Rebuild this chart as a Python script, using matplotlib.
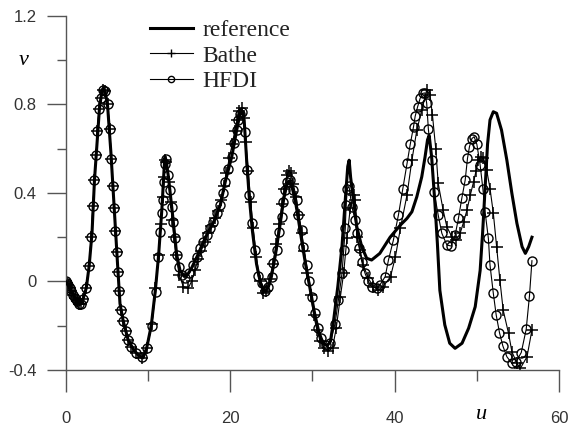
import matplotlib.pyplot as plt
from matplotlib.ticker import FixedLocator
from matplotlib.lines import Line2D

# (u, v) points
reference = [
    (0, 0), (0.5, -0.03), (1.0, -0.065), (1.5, -0.095), (1.8, -0.1), (2.1, -0.08),
    (2.5, -0.03), (2.85, 0.07), (3.2, 0.22), (3.5, 0.46), (3.8, 0.62), (4.1, 0.78),
    (4.4, 0.86), (4.6, 0.87), (4.85, 0.85), (5.1, 0.79), (5.5, 0.58), (5.9, 0.33),
    (6.3, 0.08), (6.6, -0.1), (7.0, -0.18), (7.6, -0.265), (8.3, -0.31), (9.0, -0.34),
    (9.4, -0.345), (9.85, -0.3), (10.4, -0.2), (10.9, -0.04), (11.3, 0.12),
    (11.7, 0.33), (11.95, 0.5), (12.05, 0.56), (12.2, 0.55), (12.5, 0.47), (13.0, 0.3),
    (13.5, 0.12), (13.9, 0.05), (14.4, 0.025), (14.8, 0.03), (15.3, 0.06),
    (16.0, 0.115), (17.0, 0.2), (18.0, 0.27), (18.8, 0.345), (19.4, 0.45),
    (20.2, 0.565), (20.8, 0.685), (21.2, 0.76), (21.45, 0.77), (21.7, 0.73),
    (22.0, 0.55), (22.3, 0.39), (22.7, 0.23), (23.2, 0.08), (23.7, -0.01),
    (24.2, -0.045), (24.6, -0.03), (25.0, 0.02), (25.5, 0.12), (26.0, 0.24),
    (26.5, 0.37), (26.9, 0.44), (27.2, 0.455), (27.5, 0.43), (27.9, 0.37), (28.3, 0.28),
    (28.8, 0.16), (29.3, 0.05), (29.8, -0.05), (30.3, -0.15), (30.8, -0.23),
    (31.3, -0.28), (31.8, -0.29), (32.2, -0.27), (32.6, -0.17), (33.1, -0.02),
    (33.6, 0.16), (34.0, 0.37), (34.3, 0.52), (34.47, 0.548), (34.65, 0.47),
    (35.0, 0.368), (35.4, 0.247), (36.0, 0.157), (36.6, 0.105), (37.2, 0.097),
    (38.2, 0.127), (39.45, 0.2), (40.7, 0.255), (41.5, 0.285), (42.1, 0.315),
    (42.7, 0.383), (43.3, 0.473), (43.7, 0.563), (44.0, 0.64), (44.2, 0.66),
    (44.5, 0.563), (44.9, 0.353), (45.2, 0.172), (45.5, -0.04), (46.1, -0.196),
    (46.7, -0.279), (47.35, -0.302), (48.2, -0.279), (49.0, -0.211), (49.8, -0.114),
    (50.4, 0.05), (50.7, 0.22), (51.0, 0.42), (51.3, 0.62), (51.6, 0.73),
    (52.0, 0.767), (52.4, 0.76), (53.0, 0.684), (53.65, 0.548), (54.26, 0.398),
    (54.87, 0.263), (55.5, 0.157), (55.9, 0.127), (56.3, 0.157), (56.7, 0.2),
]

bathe = [
    (0, 0), (0.15, -0.005), (0.3, -0.015), (0.5, -0.03), (0.7, -0.045), (0.9, -0.06),
    (1.1, -0.075), (1.35, -0.09), (1.6, -0.1), (1.85, -0.1), (2.1, -0.08),
    (2.47, -0.03), (2.83, 0.07), (3.1, 0.2), (3.3, 0.34), (3.5, 0.46), (3.7, 0.57),
    (3.85, 0.68), (4.05, 0.78), (4.25, 0.83), (4.5, 0.865), (4.75, 0.86), (5.1, 0.8),
    (5.35, 0.69), (5.55, 0.555), (5.75, 0.43), (5.9, 0.33), (6.05, 0.23), (6.2, 0.135),
    (6.35, 0.045), (6.5, -0.045), (6.7, -0.13), (7.0, -0.18), (7.3, -0.225),
    (7.6, -0.265), (8.0, -0.295), (8.6, -0.325), (9.25, -0.345), (9.9, -0.3),
    (10.5, -0.19), (10.9, -0.03), (11.3, 0.12), (11.6, 0.26), (11.8, 0.38),
    (11.95, 0.47), (12.1, 0.55), (12.2, 0.54), (12.5, 0.45), (12.75, 0.36),
    (12.95, 0.28), (13.15, 0.2), (13.4, 0.12), (13.8, 0.03), (14.3, -0.023),
    (14.9, -0.03), (15.3, 0.0), (15.7, 0.05), (16.1, 0.1), (16.5, 0.14), (16.9, 0.18),
    (17.3, 0.22), (17.7, 0.25), (18.1, 0.285), (18.5, 0.32), (18.9, 0.37),
    (19.2, 0.43), (19.55, 0.49), (19.9, 0.56), (20.25, 0.62), (20.55, 0.68),
    (20.85, 0.73), (21.1, 0.77), (21.4, 0.785), (21.65, 0.74), (21.9, 0.63),
    (22.2, 0.5), (22.5, 0.36), (22.8, 0.24), (23.2, 0.11), (23.6, 0.0), (24.0, -0.05),
    (24.4, -0.045), (24.8, 0.01), (25.2, 0.08), (25.6, 0.17), (25.95, 0.26),
    (26.3, 0.35), (26.6, 0.42), (26.9, 0.48), (27.15, 0.5), (27.4, 0.49),
    (27.7, 0.44), (28.0, 0.38), (28.35, 0.3), (28.7, 0.22), (29.0, 0.14), (29.4, 0.04),
    (29.8, -0.06), (30.15, -0.15), (30.55, -0.22), (30.95, -0.27), (31.45, -0.3),
    (31.95, -0.315), (32.45, -0.3), (32.9, -0.21), (33.4, -0.07), (33.8, 0.037),
    (34.2, 0.195), (34.6, 0.33), (35.0, 0.39), (35.2, 0.37), (35.4, 0.2),
    (35.8, 0.142), (36.2, 0.074), (36.8, 0.014), (37.4, -0.023), (38.0, -0.038),
    (38.6, -0.023), (39.5, 0.022), (40.1, 0.112), (40.7, 0.24), (41.5, 0.39),
    (42.1, 0.548), (42.7, 0.684), (43.3, 0.774), (43.9, 0.865), (44.3, 0.842),
    (44.6, 0.752), (45.0, 0.6), (45.3, 0.443), (45.9, 0.323), (46.35, 0.247),
    (46.96, 0.202), (47.5, 0.187), (47.97, 0.218), (48.4, 0.27), (48.8, 0.323),
    (49.2, 0.39), (49.6, 0.45), (49.9, 0.5), (50.2, 0.548), (50.5, 0.563),
    (50.8, 0.56), (51.2, 0.503), (51.6, 0.42), (52.0, 0.31), (52.4, 0.157),
    (52.8, 0.007), (53.2, -0.129), (53.85, -0.234), (54.26, -0.317), (54.87, -0.37),
    (55.3, -0.392), (56.1, -0.34), (56.7, -0.219),
]

hfdi = [
    (0, 0), (0.15, -0.005), (0.3, -0.015), (0.5, -0.03), (0.7, -0.045), (0.9, -0.06),
    (1.1, -0.075), (1.35, -0.09), (1.6, -0.1), (1.85, -0.1), (2.1, -0.08),
    (2.47, -0.03), (2.83, 0.07), (3.1, 0.2), (3.3, 0.34), (3.5, 0.46), (3.7, 0.57),
    (3.85, 0.68), (4.05, 0.78), (4.25, 0.83), (4.5, 0.865), (4.75, 0.86), (5.1, 0.8),
    (5.35, 0.69), (5.55, 0.555), (5.75, 0.43), (5.9, 0.33), (6.05, 0.23), (6.2, 0.135),
    (6.35, 0.045), (6.5, -0.045), (6.7, -0.13), (7.0, -0.18), (7.3, -0.225),
    (7.6, -0.265), (8.0, -0.295), (8.6, -0.325), (9.25, -0.34), (9.85, -0.3),
    (10.45, -0.2), (10.95, -0.046), (11.27, 0.112), (11.45, 0.225), (11.68, 0.308),
    (11.8, 0.368), (11.96, 0.45), (12.05, 0.53), (12.2, 0.555), (12.48, 0.48),
    (12.69, 0.413), (12.9, 0.338), (13.09, 0.27), (13.3, 0.196), (13.5, 0.12),
    (13.82, 0.067), (14.11, 0.03), (14.51, 0.014), (15.04, 0.037), (15.52, 0.074),
    (15.94, 0.112), (16.34, 0.15), (16.74, 0.18), (17.15, 0.21), (17.55, 0.24),
    (17.96, 0.27), (18.37, 0.308), (18.77, 0.345), (19.1, 0.398), (19.38, 0.45),
    (19.78, 0.51), (20.2, 0.563), (20.47, 0.624), (20.8, 0.684), (21.0, 0.729),
    (21.2, 0.755), (21.45, 0.765), (21.8, 0.676), (22.0, 0.503), (22.3, 0.39),
    (22.6, 0.263), (23.0, 0.142), (23.4, 0.025), (23.85, -0.008), (24.2, -0.045),
    (24.65, -0.023), (25.06, 0.022), (25.26, 0.082), (25.67, 0.142), (25.99, 0.225),
    (26.28, 0.293), (26.48, 0.36), (26.7, 0.413), (26.9, 0.45), (27.3, 0.458),
    (27.7, 0.413), (28.1, 0.368), (28.3, 0.3), (28.7, 0.233), (28.9, 0.157),
    (29.3, 0.074), (29.64, 0.0), (29.93, -0.069), (30.3, -0.144), (30.7, -0.211),
    (31.1, -0.256), (31.7, -0.287), (32.15, -0.28), (32.76, -0.19), (33.16, -0.084),
    (33.6, 0.037), (33.8, 0.142), (34.0, 0.24), (34.1, 0.345), (34.25, 0.42),
    (34.45, 0.43), (34.8, 0.338), (35.2, 0.278), (35.4, 0.218), (35.7, 0.15),
    (36.0, 0.09), (36.4, 0.037), (36.8, 0.0), (37.2, -0.023), (37.8, -0.03),
    (38.2, -0.016), (38.85, 0.022), (39.25, 0.097), (39.85, 0.187), (40.46, 0.3),
    (41.0, 0.42), (41.5, 0.534), (41.9, 0.62), (42.3, 0.7), (42.5, 0.747),
    (42.8, 0.79), (43.1, 0.827), (43.4, 0.85), (43.7, 0.852), (43.9, 0.805),
    (44.1, 0.69), (44.5, 0.55), (44.8, 0.405), (45.3, 0.3), (45.74, 0.218),
    (46.35, 0.165), (46.87, 0.16), (47.36, 0.21), (47.76, 0.285), (48.17, 0.376),
    (48.58, 0.458), (48.86, 0.556), (49.1, 0.609), (49.4, 0.646), (49.67, 0.654),
    (50.0, 0.62), (50.4, 0.526), (50.73, 0.42), (51.0, 0.315), (51.4, 0.195),
    (51.6, 0.074), (52.0, -0.053), (52.35, -0.151), (52.75, -0.231), (53.16, -0.291),
    (53.65, -0.34), (54.26, -0.37), (54.78, -0.362), (55.4, -0.321), (56.0, -0.216),
    (56.4, -0.064), (56.7, 0.094),
]

labels = ['reference', 'Bathe', 'HFDI']

plt.rcParams['font.family'] = ['Liberation Sans', 'DejaVu Sans']

fig = plt.figure(figsize=(5.68, 4.30), dpi=100)
ax = fig.add_axes([0.1157, 0.1395, 0.8686, 0.8235])

ru, rv = zip(*reference)
bu, bv = zip(*bathe)
hu, hv = zip(*hfdi)
ax.plot(ru, rv, color='black', lw=2.2, zorder=3)
ax.plot(bu, bv, color='black', lw=0.8, marker='+', ms=8, mew=1.1, zorder=2)
ax.plot(hu, hv, color='black', lw=0.8, marker='o', ms=6.5, mew=1.0,
        mfc='none', zorder=2)

ax.set_xlim(0, 60)
ax.set_ylim(-0.4, 1.2)
for s in ['top', 'right']:
    ax.spines[s].set_visible(False)
for s in ['left', 'bottom']:
    ax.spines[s].set_color('#555555')
    ax.spines[s].set_linewidth(1.0)

ax.xaxis.set_major_locator(FixedLocator([0, 20, 40, 60]))
ax.xaxis.set_minor_locator(FixedLocator([10, 30, 50]))
ax.yaxis.set_major_locator(FixedLocator([-0.4, 0, 0.4, 0.8, 1.2]))
ax.yaxis.set_minor_locator(FixedLocator([-0.2, 0.2, 0.6, 1.0]))
ax.set_xticklabels(['0', '20', '40', '60'])
ax.set_yticklabels(['-0.4', '0', '0.4', '0.8', '1.2'])
ax.tick_params(axis='x', which='major', length=16, width=1.0, color='#555555',
               pad=13.5, labelsize=12, labelcolor='#333333')
ax.tick_params(axis='x', which='minor', length=8, width=1.0, color='#555555')
ax.tick_params(axis='y', which='major', length=14, width=1.0, color='#555555',
               pad=7, labelsize=12, labelcolor='#333333')
ax.tick_params(axis='y', which='minor', length=6.5, width=1.0, color='#555555')

ax.text(-0.085, 1.0, 'v', transform=ax.get_yaxis_transform(), ha='center',
        va='center', fontsize=16, style='italic', family='Liberation Serif')
ax.text(50.6, -0.127, 'u', transform=ax.get_xaxis_transform(), ha='center',
        va='center', fontsize=16, style='italic', family='Liberation Serif')

handles = [Line2D([], [], color='black', lw=2.2),
           Line2D([], [], color='black', lw=0.8, marker='+', ms=6, mew=1.0),
           Line2D([], [], color='black', lw=0.8, marker='o', ms=4.5, mfc='none')]
ax.legend(handles, labels, loc='upper left', bbox_to_anchor=(0.171, 0.99),
          frameon=False, borderpad=0, borderaxespad=0, handlelength=1.8,
          handletextpad=0.4, labelspacing=0.17,
          prop={'family': 'Liberation Serif', 'size': 17}, labelcolor='#222222')

fig.savefig('out.png', dpi=100)
